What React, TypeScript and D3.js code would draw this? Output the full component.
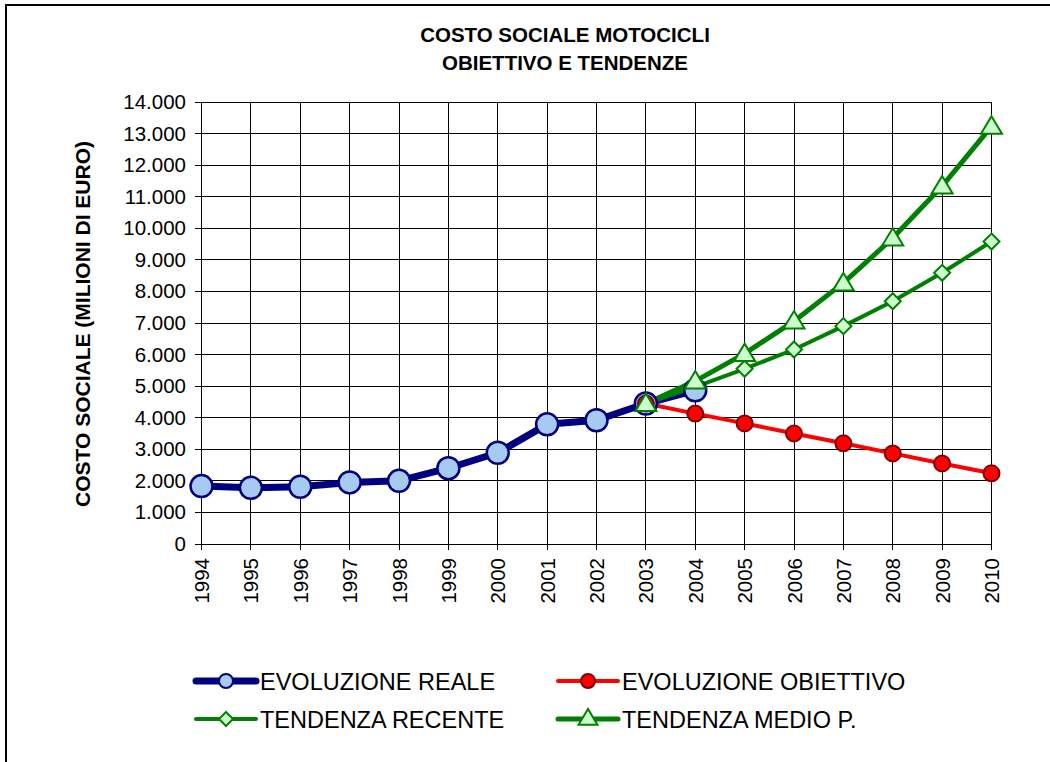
import React, { useEffect, useRef } from "react";
import * as d3 from "d3";

const years = [1994, 1995, 1996, 1997, 1998, 1999, 2000, 2001, 2002, 2003, 2004, 2005, 2006, 2007, 2008, 2009, 2010];
const yTicks = [0, 1000, 2000, 3000, 4000, 5000, 6000, 7000, 8000, 9000, 10000, 11000, 12000, 13000, 14000];

// values in millions of euro
const realeYears = [1994, 1995, 1996, 1997, 1998, 1999, 2000, 2001, 2002, 2003, 2004];
const realeValues = [1835, 1780, 1810, 1950, 2000, 2400, 2890, 3790, 3920, 4450, 4870];

const trendYears = [2003, 2004, 2005, 2006, 2007, 2008, 2009, 2010];
const obiettivoValues = [4450, 4130, 3820, 3500, 3190, 2870, 2550, 2240];
const recenteValues = [4450, 4980, 5550, 6160, 6900, 7690, 8590, 9580];
const medioValues = [4450, 5160, 6030, 7060, 8270, 9690, 11340, 13230];

const legendItems = [
  { label: "EVOLUZIONE REALE", key: "reale" },
  { label: "EVOLUZIONE OBIETTIVO", key: "obiettivo" },
  { label: "TENDENZA RECENTE", key: "recente" },
  { label: "TENDENZA MEDIO P.", key: "medio" },
];

const FONT = "'Liberation Sans', Arial, sans-serif";

const App = () => {
  const svgRef = useRef<SVGSVGElement>(null);

  useEffect(() => {
    const svg = d3.select(svgRef.current);
    svg.selectAll("*").remove();

    const x = d3.scalePoint<number>().domain(years).range([201.5, 991.5]);
    const y = d3.scaleLinear().domain([0, 14000]).range([544, 102]);

    svg.append("rect").attr("width", 1050).attr("height", 762).attr("fill", "#fff");

    // frame
    svg.append("path").attr("d", "M6,762V5H1050").attr("fill", "none").attr("stroke", "#000").attr("stroke-width", 2);

    // title
    const title = svg.append("text").attr("text-anchor", "middle").attr("font-family", FONT)
      .attr("font-weight", "bold").attr("font-size", 20.5).attr("fill", "#000");
    title.append("tspan").attr("x", 565).attr("y", 42).text("COSTO SOCIALE MOTOCICLI");
    title.append("tspan").attr("x", 565).attr("y", 70).text("OBIETTIVO E TENDENZE");

    // grid
    const grid = svg.append("g").attr("stroke", "#000").attr("stroke-width", 1).attr("shape-rendering", "crispEdges");
    grid.selectAll(".h").data(yTicks).enter().append("line")
      .attr("x1", 195).attr("x2", 991.5).attr("y1", (d) => y(d)).attr("y2", (d) => y(d));
    grid.selectAll(".v").data(years).enter().append("line")
      .attr("x1", (d) => x(d)!).attr("x2", (d) => x(d)!).attr("y1", 102).attr("y2", 550);

    // y axis labels
    svg.append("g").selectAll("text").data(yTicks).enter().append("text")
      .attr("x", 186).attr("y", (d) => y(d) + 7)
      .attr("text-anchor", "end").attr("font-family", FONT).attr("font-size", 20.5)
      .text((d) => (d === 0 ? "0" : d3.format(",")(d).replace(/,/g, ".")));

    // x axis labels
    svg.append("g").selectAll("text").data(years).enter().append("text")
      .attr("transform", (d) => `translate(${x(d)! + 7.5},558) rotate(-90)`)
      .attr("text-anchor", "end").attr("font-family", FONT).attr("font-size", 20.5)
      .text((d) => d);

    // y axis title
    svg.append("text")
      .attr("transform", "translate(90,324) rotate(-90)")
      .attr("text-anchor", "middle").attr("font-family", FONT).attr("font-weight", "bold")
      .attr("font-size", 21).text("COSTO SOCIALE (MILIONI DI EURO)");

    const line = d3.line<[number, number]>().x((d) => x(d[0])!).y((d) => y(d[1]));
    const reale = realeYears.map((yr, i) => [yr, realeValues[i]] as [number, number]);
    const obiettivo = trendYears.map((yr, i) => [yr, obiettivoValues[i]] as [number, number]);
    const recente = trendYears.map((yr, i) => [yr, recenteValues[i]] as [number, number]);
    const medio = trendYears.map((yr, i) => [yr, medioValues[i]] as [number, number]);

    svg.append("path").attr("d", line(reale)).attr("fill", "none").attr("stroke", "#000080").attr("stroke-width", 7).attr("stroke-linejoin", "round");
    svg.append("path").attr("d", line(obiettivo)).attr("fill", "none").attr("stroke", "#ff0000").attr("stroke-width", 4);
    svg.append("path").attr("d", line(recente)).attr("fill", "none").attr("stroke", "#008000").attr("stroke-width", 4);
    svg.append("path").attr("d", line(medio)).attr("fill", "none").attr("stroke", "#008000").attr("stroke-width", 5);

    const diamond = (cx: number, cy: number, s: number) => `M${cx},${cy - s}L${cx + s},${cy}L${cx},${cy + s}L${cx - s},${cy}Z`;
    const triangle = (cx: number, cy: number, s: number) => `M${cx},${cy - s}L${cx + s * 1.05},${cy + s * 0.75}L${cx - s * 1.05},${cy + s * 0.75}Z`;

    svg.append("g").selectAll("path").data(recente).enter().append("path")
      .attr("d", (d) => diamond(x(d[0])!, y(d[1]), 8))
      .attr("fill", "#ccffcc").attr("stroke", "#008000").attr("stroke-width", 2);
    svg.append("g").selectAll("circle").data(reale).enter().append("circle")
      .attr("cx", (d) => x(d[0])!).attr("cy", (d) => y(d[1])).attr("r", 11)
      .attr("fill", "#a6caf0").attr("stroke", "#000080").attr("stroke-width", 2.5);
    svg.append("g").selectAll("circle").data(obiettivo).enter().append("circle")
      .attr("cx", (d) => x(d[0])!).attr("cy", (d) => y(d[1])).attr("r", 8)
      .attr("fill", "#ff0000").attr("stroke", "#800000").attr("stroke-width", 2);
    svg.append("g").selectAll("path").data(medio).enter().append("path")
      .attr("d", (d) => triangle(x(d[0])!, y(d[1]), 10))
      .attr("fill", "#ccffcc").attr("stroke", "#008000").attr("stroke-width", 2);

    // legend
    const legendPos = [
      { lx: 196, ty: 681 },
      { lx: 558, ty: 681 },
      { lx: 196, ty: 719 },
      { lx: 558, ty: 719 },
    ];
    legendItems.forEach((item, i) => {
      const { lx, ty } = legendPos[i];
      const g = svg.append("g");
      const cx = lx + 30;
      if (item.key === "reale") {
        g.append("line").attr("x1", lx).attr("x2", lx + 60).attr("y1", ty).attr("y2", ty).attr("stroke", "#000080").attr("stroke-width", 7).attr("stroke-linecap", "round");
        g.append("circle").attr("cx", cx).attr("cy", ty).attr("r", 7).attr("fill", "#a6caf0").attr("stroke", "#000080").attr("stroke-width", 2);
      } else if (item.key === "obiettivo") {
        g.append("line").attr("x1", lx).attr("x2", lx + 60).attr("y1", ty).attr("y2", ty).attr("stroke", "#ff0000").attr("stroke-width", 4).attr("stroke-linecap", "round");
        g.append("circle").attr("cx", cx).attr("cy", ty).attr("r", 7).attr("fill", "#ff0000").attr("stroke", "#800000").attr("stroke-width", 2);
      } else if (item.key === "recente") {
        g.append("line").attr("x1", lx).attr("x2", lx + 60).attr("y1", ty).attr("y2", ty).attr("stroke", "#008000").attr("stroke-width", 4).attr("stroke-linecap", "round");
        g.append("path").attr("d", diamond(cx, ty, 7)).attr("fill", "#ccffcc").attr("stroke", "#008000").attr("stroke-width", 2);
      } else {
        g.append("line").attr("x1", lx).attr("x2", lx + 60).attr("y1", ty).attr("y2", ty).attr("stroke", "#008000").attr("stroke-width", 5).attr("stroke-linecap", "round");
        g.append("path").attr("d", triangle(cx, ty - 1, 9)).attr("fill", "#ccffcc").attr("stroke", "#008000").attr("stroke-width", 2);
      }
      g.append("text").attr("x", lx + 64).attr("y", ty + 8.5).attr("font-family", FONT).attr("font-size", 23.5).attr("fill", "#000").text(item.label);
    });
  }, []);

  return (
    <svg
      ref={svgRef}
      width={1050}
      height={762}
      style={{ position: "absolute", left: 0, top: 0, display: "block" }}
    />
  );
};

export default App;
